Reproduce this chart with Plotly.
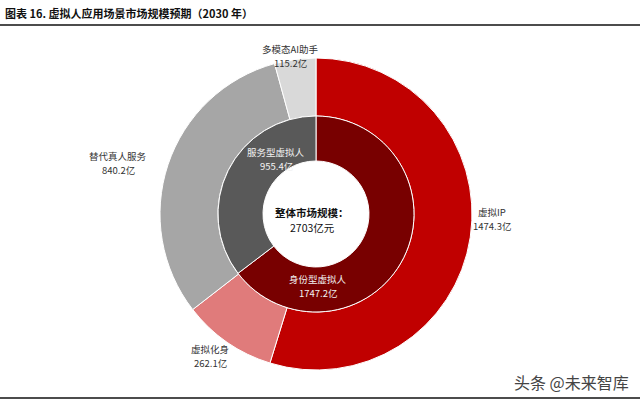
"""
虚拟人应用场景市场规模预期 (2030) - nested donut
"""
import plotly.graph_objects as go

# outer ring: application scenarios (亿元)
outer_labels = ['虚拟IP', '虚拟化身', '替代真人服务', '多模态AI助手']
outer_values = [1474.3, 262.1, 840.2, 115.2]
outer_colors = ['#C00000', '#E07B7B', '#A6A6A6', '#D9D9D9']

# inner ring: virtual human types (亿元)
inner_labels = ['身份型虚拟人', '服务型虚拟人']
inner_values = [1747.2, 955.4]
inner_colors = ['#780000', '#595959']

total_label = '整体市场规模：'
total_value = '2703亿元'

W, H = 640, 401
CX, CY = 316, 214
R_OUT, R_MID, R_IN = 156, 98, 53

CJK = 'Noto Sans CJK SC'


def dom(r):
    return dict(x=[(CX - r) / W, (CX + r) / W], y=[1 - (CY + r) / H, 1 - (CY - r) / H])


fig = go.Figure()

fig.add_trace(go.Pie(
    labels=outer_labels, values=outer_values,
    marker=dict(colors=outer_colors, line=dict(color='white', width=1)),
    hole=R_MID / R_OUT, domain=dom(R_OUT),
    sort=False, direction='clockwise', rotation=0,
    textinfo='none', hoverinfo='label+value', showlegend=False
))

fig.add_trace(go.Pie(
    labels=inner_labels, values=inner_values,
    marker=dict(colors=inner_colors, line=dict(color='white', width=1)),
    hole=R_IN / R_MID, domain=dom(R_MID),
    sort=False, direction='clockwise', rotation=0,
    textinfo='none', hoverinfo='label+value', showlegend=False
))


def text_at(px, py, text, color='#333333', size=10, xanchor='center'):
    fig.add_annotation(
        x=px / W, y=1 - py / H, xref='paper', yref='paper',
        xanchor=xanchor, yanchor='middle', borderpad=0,
        text=text, showarrow=False, align='center',
        font=dict(family=CJK, size=size, color=color)
    )


def label(px, py, name, value, color='#333333', size=9.5, gap=14):
    # two stacked lines: name above, value below
    text_at(px, py - gap / 2, name, color, size)
    text_at(px, py + gap / 2, value, color, size)


label(290, 56, outer_labels[3], f'{outer_values[3]}亿')
label(118, 163, outer_labels[2], f'{outer_values[2]}亿')
label(492, 219, outer_labels[0], f'{outer_values[0]}亿')
label(210, 356, outer_labels[1], f'{outer_values[1]}亿')
label(276, 159, inner_labels[1], f'{inner_values[1]}亿', color='#F2F2F2')
label(318, 286, inner_labels[0], f'{inner_values[0]}亿', color='#F2F2F2')
label(312, 220, f'<b>{total_label}</b>', total_value, color='#111111', size=10.5, gap=15)

# title, watermark and rules
text_at(4, 13, '<b>图表 16. 虚拟人应用场景市场规模预期（2030 年）</b>',
        color='#111111', size=11, xanchor='left')
text_at(630, 382, '头条 @未来智库', color='#444444', size=16, xanchor='right')

fig.add_shape(type='line', xref='paper', yref='paper',
              x0=0, x1=1, y0=1 - 25 / H, y1=1 - 25 / H,
              line=dict(color='#111111', width=1.5))
fig.add_shape(type='line', xref='paper', yref='paper',
              x0=0, x1=1, y0=1 - 398 / H, y1=1 - 398 / H,
              line=dict(color='#111111', width=1.5))

fig.update_layout(
    width=W, height=H,
    margin=dict(l=0, r=0, t=0, b=0),
    paper_bgcolor='white',
    template='plotly_white'
)

fig.write_html('out.html', config={'displayModeBar': False},
               post_script="document.body.style.margin='0px';")
